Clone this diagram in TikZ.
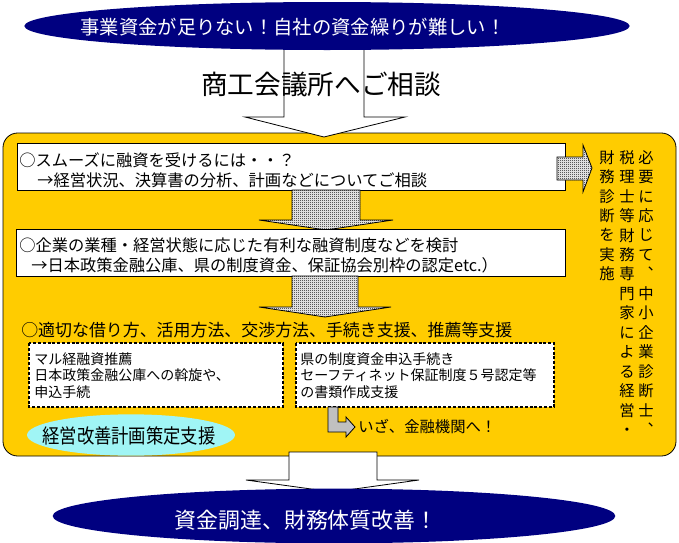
\documentclass[tikz,border=0pt]{standalone}
\usepackage{fontspec}
\setmainfont{Noto Sans CJK JP}
\usepackage{xcolor}
\usetikzlibrary{patterns}

\definecolor{navy}{RGB}{0,0,128}
\definecolor{gold}{RGB}{255,204,0}
\definecolor{aqua}{RGB}{160,245,245}
\definecolor{silver}{RGB}{192,192,192}

% fine checker fill of the grey arrows
\pgfdeclarepatternformonly{checker}{\pgfpointorigin}{\pgfqpoint{1.5pt}{1.5pt}}{\pgfqpoint{1.5pt}{1.5pt}}{%
  \pgfpathrectangle{\pgfpointorigin}{\pgfqpoint{0.75pt}{0.75pt}}%
  \pgfpathrectangle{\pgfqpoint{0.75pt}{0.75pt}}{\pgfqpoint{0.75pt}{0.75pt}}%
  \pgfusepath{fill}}

\begin{document}
\begin{tikzpicture}[x=0.75pt, y=-0.75pt,
  every node/.style={inner sep=0pt, font=\fontsize{12.2}{14}\selectfont},
  box/.style={draw, fill=white, line width=0.6pt},
  dbox/.style={draw, fill=white, line width=1.4pt, dash pattern=on 2.2pt off 1.4pt},
  blank/.style={draw, fill=white, line width=0.6pt},
  hatch/.style={draw, line width=0.6pt, preaction={fill=white}, pattern=checker},
  col/.style={anchor=north, align=center, font=\fontsize{11.5}{14.6}\selectfont}]
  \useasboundingbox (0,0) rectangle (679,543);

  % Panel amarillo
  \draw[fill=gold, line width=0.6pt, rounded corners=11pt] (3,133) rectangle (676,456);

  % Flecha superior y problema
  \draw[blank] (284,40) -- (284,117) -- (245,117) -- (324,137) -- (405,117) -- (364,117) -- (364,40) -- cycle;
  \fill[navy] (327,26) ellipse [x radius=227pt, y radius=18pt];
  \node[text=white, font=\fontsize{14.5}{16}\selectfont] (need) at (293,27) {事業資金が足りない！自社の資金繰りが難しい！};
  \node[font=\fontsize{20}{22}\selectfont] (cci) at (321,84) {商工会議所へご相談};

  % Primer paso
  \draw[box] (17,143) rectangle (565,190);
  \node[anchor=west] (q1a) at (19,160) {○スムーズに融資を受けるには・・？};
  \node[anchor=west] (q1b) at (37,180) {→経営状況、決算書の分析、計画などについてご相談};

  % Diagnostico (derecha)
  \draw[hatch] (557,157) -- (583,157) -- (583,145) -- (592,168) -- (583,192) -- (583,180) -- (557,180) -- cycle;
  \node[col] (diag1) at (646,150) {必\\要\\に\\応\\じ\\て\\︑\\中\\小\\企\\業\\診\\断\\士\\︑};
  \node[col] (diag2) at (627,150) {税\\理\\士\\等\\財\\務\\専\\門\\家\\に\\よ\\る\\経\\営\\・};
  \node[col] (diag3) at (607,150) {財\\務\\診\\断\\を\\実\\施};

  % Segundo paso
  \draw[hatch] (292,190) -- (292,220) -- (259,220) -- (326,230) -- (393,220) -- (360,220) -- (360,190) -- cycle;
  \draw[box] (16,229) rectangle (565,276);
  \node[anchor=west] (q2a) at (19,245) {○企業の業種・経営状態に応じた有利な融資制度などを検討};
  \node[anchor=west] (q2b) at (31,265) {→日本政策金融公庫、県の制度資金、保証協会別枠の認定etc.）};

  % Tercer paso
  \draw[hatch] (292,276) -- (292,307) -- (259,307) -- (325,317) -- (391,307) -- (358,307) -- (358,276) -- cycle;
  \node[anchor=west, font=\fontsize{12.7}{14}\selectfont] (q3) at (21,330) {○適切な借り方、活用方法、交渉方法、手続き支援、推薦等支援};

  \draw[dbox] (29,343) rectangle (283,407);
  \node[anchor=north west, align=left, font=\fontsize{10.5}{12.4}\selectfont] (maru) at (34,352)
    {マル経融資推薦\\日本政策金融公庫への斡旋や、\\申込手続};
  \draw[dbox] (296,343) rectangle (554,407);
  \node[anchor=north west, align=left, font=\fontsize{10.5}{12.4}\selectfont] (ken) at (300,352)
    {県の制度資金申込手続き\\セーフティネット保証制度５号認定等\\の書類作成支援};

  \draw[fill=silver, line width=0.6pt] (328,407) -- (328,432) -- (346,432) -- (346,437) -- (355,427) -- (346,417) -- (346,422) -- (338,422) -- (338,407) -- cycle;
  \node[anchor=west, font=\fontsize{11.5}{13}\selectfont] (bank) at (358,427) {いざ、金融機関へ！};

  \fill[aqua] (131,435) ellipse [x radius=78pt, y radius=15.5pt];
  \node[font=\fontsize{13}{15}\selectfont, yscale=1.15] (plan) at (129,436) {経営改善計画策定支援};

  % Resultado
  \draw[blank] (289,452) -- (289,480) -- (246,480) -- (333,492) -- (419,480) -- (377,480) -- (377,452) -- cycle;
  \fill[navy] (334,516) ellipse [x radius=211pt, y radius=20.5pt];
  \node[text=white, font=\fontsize{16.4}{18}\selectfont] (goal) at (306,520) {資金調達、財務体質改善！};
\end{tikzpicture}
\end{document}
